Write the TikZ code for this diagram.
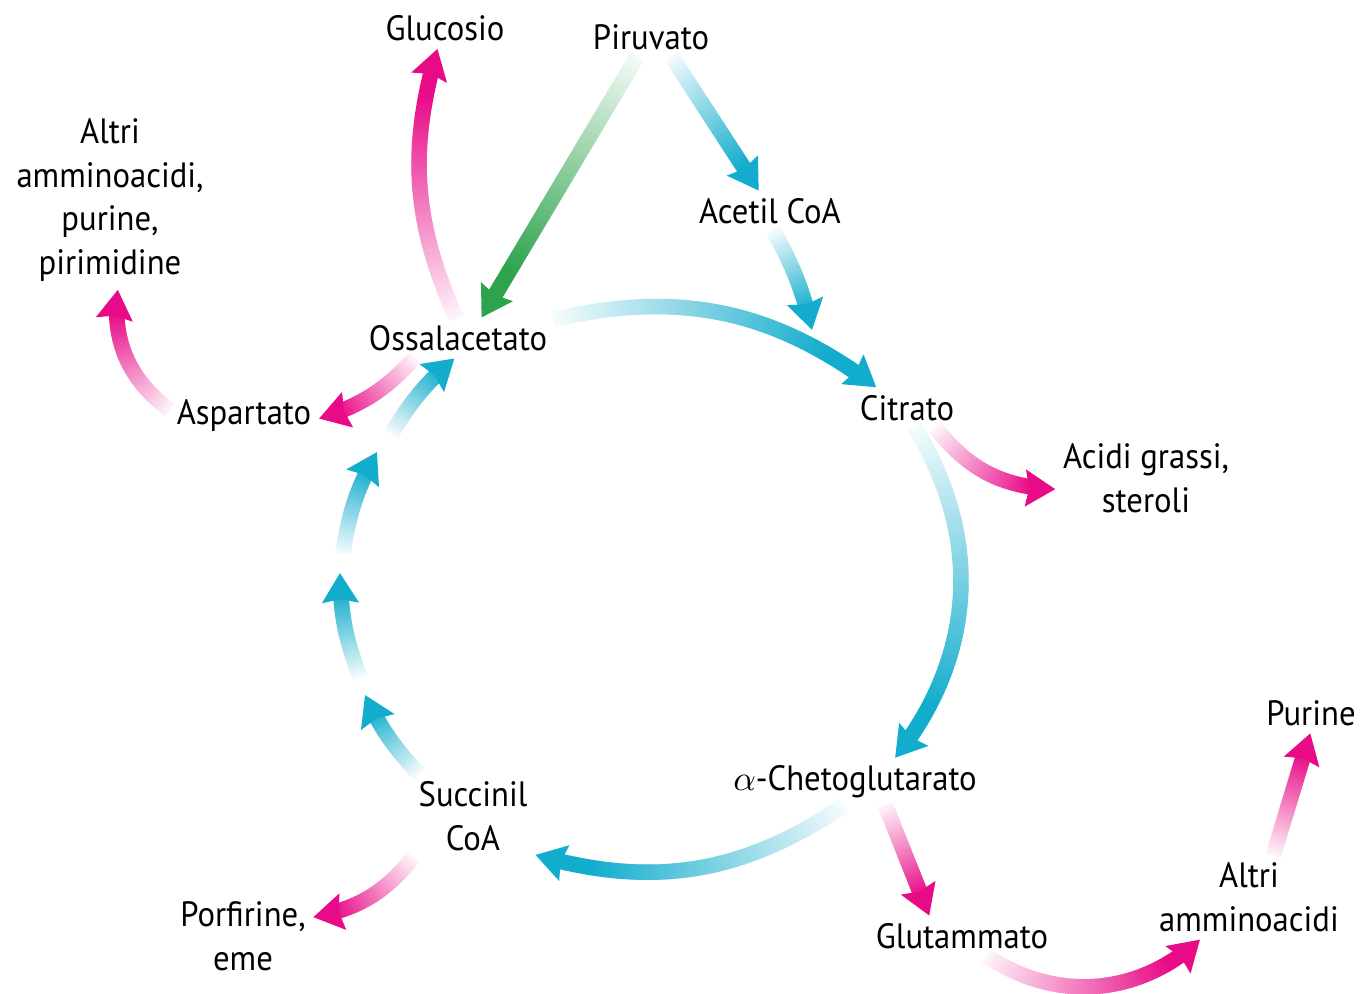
\documentclass[tikz,border=0pt]{standalone}
\usepackage{fontspec}
\setmainfont[FakeStretch=0.93]{PT Sans}
\usetikzlibrary{positioning,decorations.markings}
\definecolor{cycblue}{RGB}{18,172,204}
\definecolor{sidepink}{RGB}{232,10,135}
\definecolor{piruvgreen}{RGB}{44,163,76}
\tikzset{
  lab/.style={inner sep=2pt, align=center, font=\fontsize{10}{12.5}\selectfont},
  fade/.style={decorate, decoration={markings,
    mark=between positions 0 and -6pt step 0.5pt with {
      \pgfmathtruncatemacro\fadepct{min(100,5+115*\pgfkeysvalueof{/pgf/decoration/mark info/distance from start}/\pgfdecoratedpathlength)}
      \fill[#1!\fadepct!white] (-0.35pt,-2.2pt) rectangle (0.35pt,2.2pt);},
    mark=at position 1 with {\fill[#1] (0,0) -- (-8.5pt,5.3pt) -- (-7.4pt,0) -- (-8.5pt,-5.3pt) -- cycle;}}}
}
\begin{document}
\begin{tikzpicture}[x=0.01cm,y=0.01cm]
\useasboundingbox (0,0) rectangle (1363,-994);
\node[lab] (gluc) at (445,-28) {Glucosio};
\node[lab] (piru) at (651,-37) {Piruvato};
\node[lab] (altria) at (110,-200) {Altri\\amminoacidi,\\purine,\\pirimidine};
\node[lab] (acetil) at (770,-211) {Acetil CoA};
\node[lab] (oss) at (458,-338) {Ossalacetato};
\node[lab] (asp) at (244,-416) {Aspartato};
\node[lab] (citr) at (907,-408) {Citrato};
\node[lab] (acidi) at (1146,-478) {Acidi grassi,\\steroli};
\node[lab] (purine) at (1311,-713) {Purine};
\node[lab] (cheto) at (855,-782) {$\alpha$-Chetoglutarato};
\node[lab] (succ) at (473,-816) {Succinil\\CoA};
\node[lab] (altrib) at (1249,-897) {Altri\\amminoacidi};
\node[lab] (glut) at (962,-936) {Glutammato};
\node[lab] (porf) at (243,-936) {Porfirine,\\eme};
\coordinate (acin) at (812,-330);
\coordinate (c1) at (365,-695);
\coordinate (c2) at (360,-677);
\coordinate (c3) at (340,-573);
\coordinate (c4) at (343,-553);
\coordinate (c5) at (377,-452);
\coordinate (c6) at (392,-433);
\path[fade=sidepink] (oss.96) to[bend left=20] (gluc.250);
\path[fade=piruvgreen] (piru.235) -- (oss.41);
\path[fade=cycblue] (piru.316) -- (acetil.119);
\path[fade=cycblue] (acetil.280) to[bend left=8] (acin);
\path[fade=cycblue] (oss.11) to[bend left=25] (citr.146);
\path[fade=cycblue] (citr.292) to[bend left=35] (cheto.31);
\path[fade=sidepink] (citr.325) to[bend right=25] (acidi.187);
\path[fade=cycblue] (cheto.243) to[bend left=25] (succ.328);
\path[fade=sidepink] (cheto.322) -- (glut.148);
\path[fade=sidepink] (glut.321) to[bend right=38] (altrib.221);
\path[fade=sidepink] (altrib.60) -- (purine.268);
\path[fade=sidepink] (succ.215) to[bend left=20] (porf.15);
\path[fade=sidepink] (oss.205) to[bend left=15] (asp.358);
\path[fade=sidepink] (asp.175) to[bend left=30] (altria.275);
\path[fade=cycblue] (succ.142) to[bend left=9] (c1);
\path[fade=cycblue] (c2) to[bend left=10] (c3);
\path[fade=cycblue] (c4) to[bend left=10] (c5);
\path[fade=cycblue] (c6) to[bend left=9] (oss.260);
\end{tikzpicture}
\end{document}
